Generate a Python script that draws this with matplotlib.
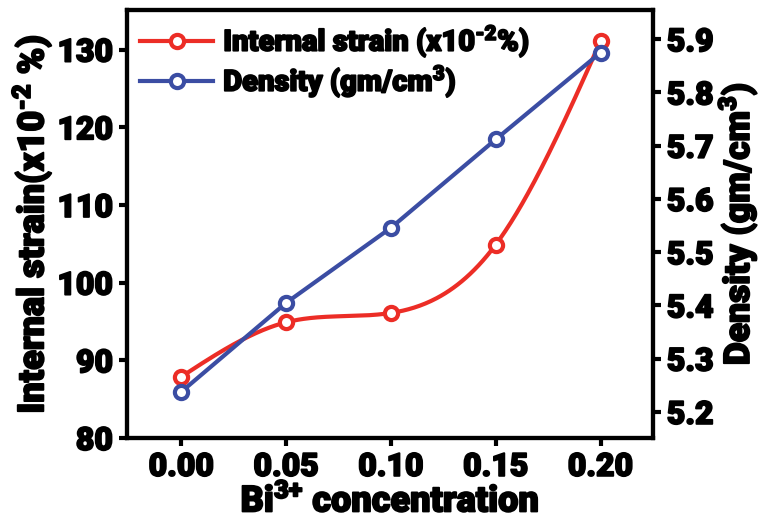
import numpy as np
import matplotlib
matplotlib.use("Agg")
import matplotlib.pyplot as plt
import matplotlib.patheffects as pe
from matplotlib.lines import Line2D

# Bi3+ doping level and measured quantities
bi_conc = [0.00, 0.05, 0.10, 0.15, 0.20]
internal_strain = [87.9, 94.9, 96.1, 104.9, 131.1]   # x10^-2 %
density = [5.238, 5.405, 5.546, 5.712, 5.875]        # gm/cm^3

x_ticks = [0.00, 0.05, 0.10, 0.15, 0.20]
left_ticks = [80, 90, 100, 110, 120, 130]
right_ticks = [5.2, 5.3, 5.4, 5.5, 5.6, 5.7, 5.8, 5.9]

RED = "#EC2D26"
BLUE = "#3B4DA3"
FONT = "Roboto"
WEIGHT = "black"
HEAVY = [pe.withStroke(linewidth=1.3, foreground="black")]


def natural_spline(x, y, n=300):
    """Natural cubic spline through (x, y) for a smooth connecting line."""
    x = np.asarray(x, float)
    y = np.asarray(y, float)
    k = len(x)
    h = np.diff(x)
    A = np.zeros((k, k))
    b = np.zeros(k)
    A[0, 0] = A[-1, -1] = 1.0
    for i in range(1, k - 1):
        A[i, i - 1] = h[i - 1]
        A[i, i] = 2 * (h[i - 1] + h[i])
        A[i, i + 1] = h[i]
        b[i] = 6 * ((y[i + 1] - y[i]) / h[i] - (y[i] - y[i - 1]) / h[i - 1])
    M = np.linalg.solve(A, b)
    xs = np.linspace(x[0], x[-1], n)
    idx = np.clip(np.searchsorted(x, xs) - 1, 0, k - 2)
    x0, x1 = x[idx], x[idx + 1]
    hh = x1 - x0
    t0 = x1 - xs
    t1 = xs - x0
    ys = (M[idx] * t0**3 / (6 * hh) + M[idx + 1] * t1**3 / (6 * hh)
          + (y[idx] / hh - M[idx] * hh / 6) * t0
          + (y[idx + 1] / hh - M[idx + 1] * hh / 6) * t1)
    return xs, ys


plt.rcParams["font.family"] = [FONT, "DejaVu Sans"]
plt.rcParams["font.weight"] = WEIGHT
plt.rcParams["axes.labelweight"] = WEIGHT
plt.rcParams["mathtext.fontset"] = "custom"
plt.rcParams["mathtext.rm"] = f"{FONT}:{WEIGHT}"
plt.rcParams["mathtext.bf"] = f"{FONT}:{WEIGHT}"
plt.rcParams["mathtext.it"] = f"{FONT}:{WEIGHT}"
plt.rcParams["mathtext.default"] = "rm"

fig = plt.figure(figsize=(7.59, 5.2), dpi=100)
ax = fig.add_axes([0.1673, 0.1577, 0.8603 - 0.1673, 0.9808 - 0.1577])
ax2 = ax.twinx()

lw = 3.0
ms = 9.5
mew = 3.0

xs, ys = natural_spline(bi_conc, internal_strain)
ax.plot(xs, ys, color=RED, lw=lw, solid_capstyle="round")
ax.plot(bi_conc, internal_strain, ls="none", marker="o", ms=ms, mew=mew,
        mec=RED, mfc="white")

ax2.plot(bi_conc, density, color=BLUE, lw=lw, marker="o", ms=ms, mew=mew,
         mec=BLUE, mfc="white")

ax.set_xlim(-0.026, 0.225)
ax.set_ylim(80, 135.1)
ax2.set_ylim(5.151, 5.955)

ax.set_xticks(x_ticks)
ax.set_xticklabels([f"{v:.2f}" for v in x_ticks])
ax.set_yticks(left_ticks)
ax2.set_yticks(right_ticks)
ax2.set_yticklabels([f"{v:.1f}" for v in right_ticks])

for a in (ax, ax2):
    for s in a.spines.values():
        s.set_linewidth(3)
    a.tick_params(direction="out", length=6, width=3, labelsize=23, pad=4)
    for lab in a.get_xticklabels() + a.get_yticklabels():
        lab.set_fontweight(WEIGHT)
        lab.set_path_effects(HEAVY)

xl = ax.set_xlabel(r"Bi$^{\text{3+}}$ concentration", fontsize=26,
                   fontweight=WEIGHT, labelpad=0)
yl = ax.set_ylabel(r"Internal strain(x10$^{\text{-2}}$ %)", fontsize=26,
                   fontweight=WEIGHT, labelpad=2)
yr = ax2.set_ylabel(r"Density (gm/cm$^{\text{3}}$)", fontsize=25.5,
                    fontweight=WEIGHT, labelpad=1)
for t in (xl, yl, yr):
    t.set_path_effects(HEAVY)

handles = [
    Line2D([], [], color=RED, lw=lw, marker="o", ms=ms, mew=mew, mec=RED,
           mfc="white"),
    Line2D([], [], color=BLUE, lw=lw, marker="o", ms=ms, mew=mew, mec=BLUE,
           mfc="white"),
]
labels = [r"Internal strain (x10$^{\text{-2}}$%)", r"Density (gm/cm$^{\text{3}}$)"]
leg = ax2.legend(handles, labels, loc="upper left", frameon=False,
                 handlelength=2.5, handletextpad=0.35,
                 labelspacing=0.12, borderaxespad=0.05,
                 prop={"family": FONT, "weight": WEIGHT, "size": 21})
for t in leg.get_texts():
    t.set_path_effects(HEAVY)

fig.savefig("out.png", dpi=100)
